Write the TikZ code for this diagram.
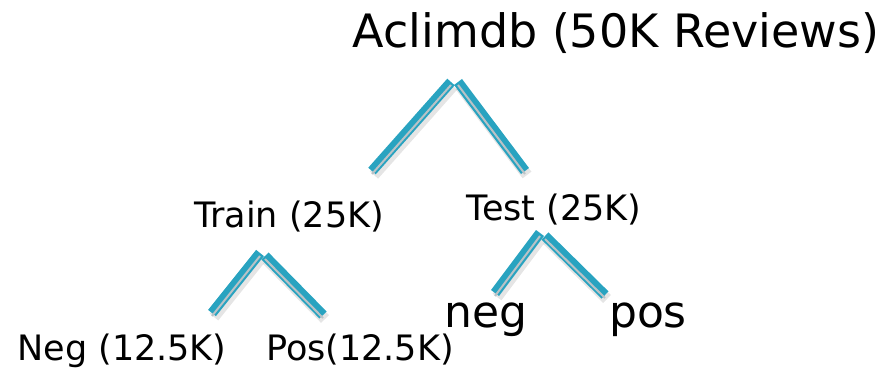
\documentclass[tikz,border=0pt]{standalone}
\usepackage{fontspec}
\setmainfont{DejaVu Sans}
\definecolor{tea}{RGB}{41,163,192}
\definecolor{str}{RGB}{186,194,198}
\tikzset{
  branch/.style={line width=10pt,draw=tea,
    preaction={draw=black,opacity=0.10,line width=11pt,transform canvas={shift={(2pt,-4pt)}}},
    postaction={draw=str,line width=2pt,transform canvas={yshift=-3pt}}},
  lbl/.style={anchor=base,inner sep=0pt,font=\fontsize{35}{40}\selectfont},
  big/.style={anchor=base,inner sep=0pt,font=\fontsize{44}{50}\selectfont}
}

\begin{document}
\begin{tikzpicture}[x=1pt,y=-1pt]
    \useasboundingbox (0,0) rectangle (884,369);
    % labels
    \node[lbl,font=\fontsize{46}{50}\selectfont] (root) at (616,48) {Aclimdb (50K Reviews)};
    \node[lbl] (train) at (289,227) {Train (25K)};
    \node[lbl] (test) at (554,220) {Test (25K)};
    \node[lbl] (trneg) at (122,360) {Neg (12.5K)};
    \node[lbl] (trpos) at (360,360) {Pos(12.5K)};
    \node[big] (teneg) at (486,327) {neg};
    \node[big] (tepos) at (648,327) {pos};
    %
    \coordinate (R1) at (372,171);
    \coordinate (R2) at (451,82);
    \coordinate (R3) at (458,82);
    \coordinate (R4) at (525,171);
    \coordinate (T1) at (212,313);
    \coordinate (T2) at (260,253);
    \coordinate (T3) at (265,256);
    \coordinate (T4) at (323,315);
    \coordinate (E1) at (495,293);
    \coordinate (E2) at (540,233);
    \coordinate (E3) at (545,236);
    \coordinate (E4) at (605,295);
    %
    \draw[branch] (R1) -- (R2);
    \draw[branch] (R3) -- (R4);
    \draw[branch] (T1) -- (T2);
    \draw[branch] (T3) -- (T4);
    \draw[branch] (E1) -- (E2);
    \draw[branch] (E3) -- (E4);
\end{tikzpicture}
\end{document}
